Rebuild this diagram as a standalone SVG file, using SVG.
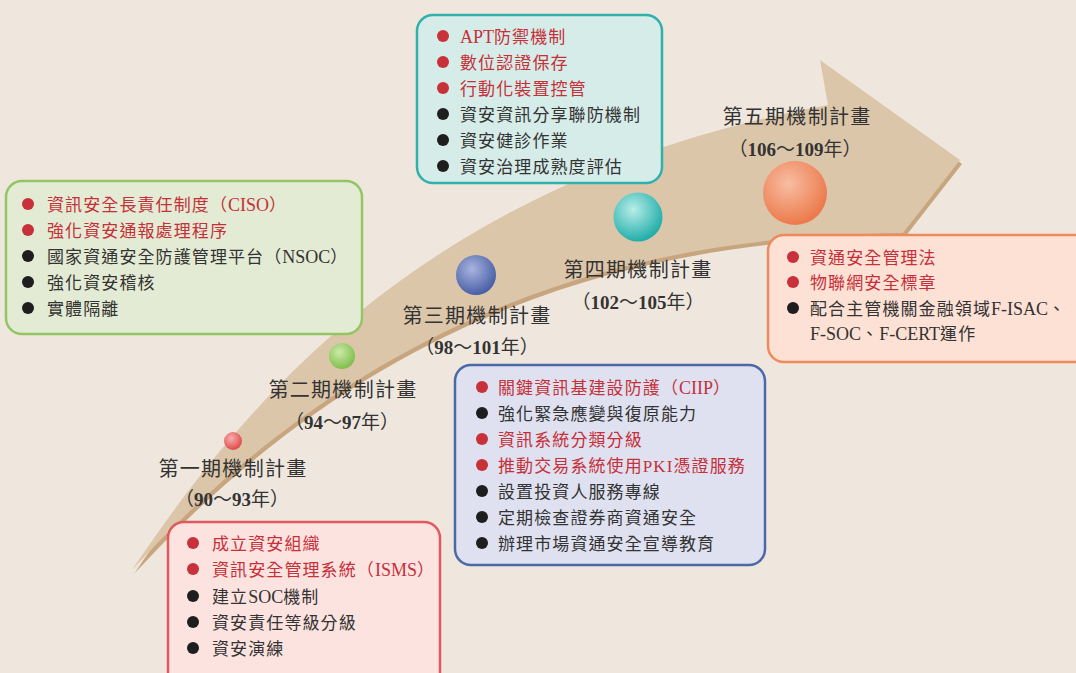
<svg xmlns="http://www.w3.org/2000/svg" width="1076" height="673" viewBox="0 0 1076 673">
<defs>
<style>
.t{font-family:"Liberation Serif","Noto Sans CJK TC",serif;font-size:17px;letter-spacing:1.1px}
.t tspan.l{letter-spacing:0;font-size:18px}
.r{fill:#c53039}
.k{fill:#333}
.lab{font-family:"Liberation Serif","Noto Sans CJK TC",serif;font-size:20px;fill:#333;letter-spacing:1.3px;text-anchor:middle}
.yr{font-family:"Liberation Serif","Noto Sans CJK TC",serif;font-size:19px;fill:#333;text-anchor:middle}
.yr tspan.n{font-weight:bold}
.br{fill:#c8303a}
.bk{fill:#1e1e1e}
.box{stroke-width:2.5}
</style>
<radialGradient id="gR" cx="0.4" cy="0.35" r="0.65"><stop offset="0" stop-color="#f8b0ad"/><stop offset="1" stop-color="#e04a4c"/></radialGradient>
<radialGradient id="gG" cx="0.4" cy="0.35" r="0.65"><stop offset="0" stop-color="#cdeaa8"/><stop offset="1" stop-color="#7fbf4d"/></radialGradient>
<radialGradient id="gB" cx="0.4" cy="0.35" r="0.65"><stop offset="0" stop-color="#a9b4df"/><stop offset="1" stop-color="#4860a6"/></radialGradient>
<radialGradient id="gT" cx="0.4" cy="0.35" r="0.65"><stop offset="0" stop-color="#b8ede8"/><stop offset="1" stop-color="#22aeaa"/></radialGradient>
<radialGradient id="gO" cx="0.4" cy="0.35" r="0.65"><stop offset="0" stop-color="#f8bda3"/><stop offset="1" stop-color="#ec7a4b"/></radialGradient>
<path id="arrowShape" d="M132,570 C240,410 420,180 828,105 L820,60 L960,160 L903,233 C650,235 380,300 132,570 Z"/>
</defs>
<rect width="1076" height="673" fill="#efe7dd"/>
<g id="connectors">
<use href="#arrowShape" transform="translate(2,4)" fill="#c7a57f"/>
<use href="#arrowShape" fill="#dcc6a9"/>
</g>
<g id="phase1">
<circle cx="233" cy="441" r="9" fill="url(#gR)"/>
<text class="lab" x="233" y="476">第一期機制計畫</text>
<text class="yr" x="232" y="506">（<tspan class="n">90</tspan>～<tspan class="n">93</tspan>年）</text>
</g>
<g id="phase2">
<circle cx="342" cy="356" r="13" fill="url(#gG)"/>
<text class="lab" x="343" y="397">第二期機制計畫</text>
<text class="yr" x="342" y="429">（<tspan class="n">94</tspan>～<tspan class="n">97</tspan>年）</text>
</g>
<g id="phase3">
<circle cx="476" cy="275" r="20" fill="url(#gB)"/>
<text class="lab" x="477" y="323">第三期機制計畫</text>
<text class="yr" x="477" y="354">（<tspan class="n">98</tspan>～<tspan class="n">101</tspan>年）</text>
</g>
<g id="phase4">
<circle cx="638" cy="217" r="24.5" fill="url(#gT)"/>
<text class="lab" x="638" y="277">第四期機制計畫</text>
<text class="yr" x="638" y="309">（<tspan class="n">102</tspan>～<tspan class="n">105</tspan>年）</text>
</g>
<g id="phase5">
<circle cx="795" cy="193" r="32" fill="url(#gO)"/>
<text class="lab" x="797" y="124">第五期機制計畫</text>
<text class="yr" x="795" y="156">（<tspan class="n">106</tspan>～<tspan class="n">109</tspan>年）</text>
</g>
<g id="box-top">
<rect class="box" x="417" y="15" width="245" height="168" rx="16" fill="#d6ece8" stroke="#30b1ac"/>
<circle class="br" cx="443" cy="36" r="6"/><text class="t r" x="460" y="42.5"><tspan class="l">APT</tspan>防禦機制</text>
<circle class="br" cx="443" cy="62" r="6"/><text class="t r" x="460" y="68.5">數位認證保存</text>
<circle class="br" cx="443" cy="88" r="6"/><text class="t r" x="460" y="94.5">行動化裝置控管</text>
<circle class="bk" cx="443" cy="114" r="6"/><text class="t k" x="460" y="120.5">資安資訊分享聯防機制</text>
<circle class="bk" cx="443" cy="140" r="6"/><text class="t k" x="460" y="146.5">資安健診作業</text>
<circle class="bk" cx="443" cy="166" r="6"/><text class="t k" x="460" y="172.5">資安治理成熟度評估</text>
</g>
<g id="box-left">
<rect class="box" x="6" y="181" width="356" height="153" rx="16" fill="#e3ebd4" stroke="#94c563"/>
<circle class="br" cx="28" cy="204" r="6"/><text class="t r" x="47" y="210.5">資訊安全長責任制度（<tspan class="l">CISO</tspan>）</text>
<circle class="br" cx="28" cy="230" r="6"/><text class="t r" x="47" y="236.5">強化資安通報處理程序</text>
<circle class="bk" cx="28" cy="256" r="6"/><text class="t k" x="47" y="262.5">國家資通安全防護管理平台（<tspan class="l">NSOC</tspan>）</text>
<circle class="bk" cx="28" cy="282" r="6"/><text class="t k" x="47" y="288.5">強化資安稽核</text>
<circle class="bk" cx="28" cy="308" r="6"/><text class="t k" x="47" y="314.5">實體隔離</text>
</g>
<g id="box-bottom">
<rect class="box" x="168" y="522" width="272" height="170" rx="16" fill="#fde3e0" stroke="#e0595c"/>
<circle class="br" cx="193" cy="543" r="6"/><text class="t r" x="212" y="549.5">成立資安組織</text>
<circle class="br" cx="193" cy="569" r="6"/><text class="t r" x="212" y="575.5">資訊安全管理系統（<tspan class="l">ISMS</tspan>）</text>
<circle class="bk" cx="193" cy="596" r="6"/><text class="t k" x="212" y="602.5">建立<tspan class="l">SOC</tspan>機制</text>
<circle class="bk" cx="193" cy="622" r="6"/><text class="t k" x="212" y="628.5">資安責任等級分級</text>
<circle class="bk" cx="193" cy="648" r="6"/><text class="t k" x="212" y="654.5">資安演練</text>
</g>
<g id="box-middle">
<rect class="box" x="455" y="365" width="310" height="200" rx="16" fill="#dfe1f0" stroke="#4b68a9"/>
<circle class="br" cx="482" cy="387" r="6"/><text class="t r" x="498" y="393.5">關鍵資訊基建設防護（<tspan class="l">CIIP</tspan>）</text>
<circle class="bk" cx="482" cy="413" r="6"/><text class="t k" x="498" y="419.5">強化緊急應變與復原能力</text>
<circle class="br" cx="482" cy="439" r="6"/><text class="t r" x="498" y="445.5">資訊系統分類分級</text>
<circle class="br" cx="482" cy="465" r="6"/><text class="t r" x="498" y="471.5">推動交易系統使用PKI憑證服務</text>
<circle class="bk" cx="482" cy="491" r="6"/><text class="t k" x="498" y="497.5">設置投資人服務專線</text>
<circle class="bk" cx="482" cy="517" r="6"/><text class="t k" x="498" y="523.5">定期檢查證券商資通安全</text>
<circle class="bk" cx="482" cy="543" r="6"/><text class="t k" x="498" y="549.5">辦理市場資通安全宣導教育</text>
</g>
<g id="box-right">
<rect class="box" x="768" y="235" width="330" height="127" rx="16" fill="#fde1d5" stroke="#ef8a5c"/>
<circle class="br" cx="793" cy="257" r="6"/><text class="t r" x="810" y="263.5">資通安全管理法</text>
<circle class="br" cx="793" cy="282" r="6"/><text class="t r" x="810" y="288.5">物聯網安全標章</text>
<circle class="bk" cx="793" cy="308" r="6"/><text class="t k" x="810" y="314.5">配合主管機關金融領域<tspan class="l">F-ISAC</tspan>、</text>
<text class="t k" x="810" y="340"><tspan class="l">F-SOC</tspan>、<tspan class="l">F-CERT</tspan>運作</text>
</g>
</svg>
